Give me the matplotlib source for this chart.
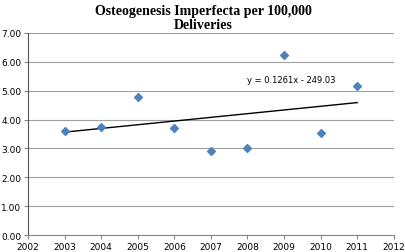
import numpy as np
import matplotlib.pyplot as plt

# data
years = [2003, 2004, 2005, 2006, 2007, 2008, 2009, 2010, 2011]
rates = [3.62, 3.73, 4.78, 3.72, 2.92, 3.02, 6.22, 3.52, 5.15]
x_ticks = list(range(2002, 2013))
y_ticks = [0, 1, 2, 3, 4, 5, 6, 7]

fig = plt.figure(figsize=(4.06, 2.53), dpi=100)
ax = fig.add_axes([0.069, 0.067, 0.901, 0.799])

ax.scatter(years, rates, marker='D', s=16, color='#4F81BD', zorder=3)

# linear trend
slope, icpt = np.polyfit(years, rates, 1)
xs = np.array([years[0], years[-1]])
ax.plot(xs, slope * xs + icpt, color='black', lw=1, zorder=2)
ax.text(2009.2, 5.37, "y = 0.1261x - 249.03", fontsize=6, ha='center',
        va='center', family='DejaVu Sans')

ax.set_xlim(2002, 2012)
ax.set_ylim(0, 7)
ax.set_xticks(x_ticks)
ax.set_yticks(y_ticks)
ax.set_yticklabels([f"{v:.2f}" for v in y_ticks])
ax.tick_params(labelsize=6.5, length=3, color='#868686', pad=2)
ax.grid(axis='y', color='#A0A0A0', lw=0.8)
ax.set_axisbelow(True)
for s in ['top', 'right']:
    ax.spines[s].set_visible(False)
ax.spines['left'].set_color('#555555')
ax.spines['bottom'].set_color('#868686')

fig.suptitle("Osteogenesis Imperfecta per 100,000\nDeliveries", fontsize=10,
             fontweight='bold', family='Liberation Serif', y=0.98,
             linespacing=1.05)

fig.savefig("out.png", dpi=100)
